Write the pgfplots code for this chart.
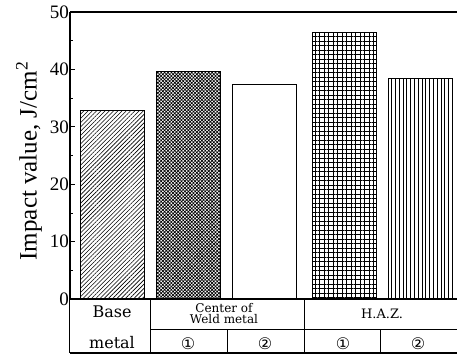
\documentclass[border=0pt]{standalone}
\usepackage{pgfplots}
\pgfplotsset{compat=1.18}
\usepackage{fontspec}
\setmainfont{Liberation Serif}
\newfontfamily\tabfont{DejaVu Serif}
\newfontfamily\circfont{DejaVu Sans}
\usetikzlibrary{patterns.meta}
\begin{document}
\begin{tikzpicture}
\begin{axis}[
  at={(0,0)}, anchor=south west,
  scale only axis, width=387pt, height=287pt,
  xmin=0, xmax=387, ymin=0, ymax=50,
  clip=false,
  axis x line=none,
  axis y line*=left,
  y axis line style={line width=1.2pt, black},
  xtick=\empty,
  ytick={0,10,20,30,40,50},
  minor ytick={5,15,25,35,45},
  tick align=inside,
  major tick length=5pt, minor tick length=3pt,
  tick style={black, line width=0.8pt},
  /pgf/number format/assume math mode=true,
  yticklabel style={font=\rmfamily\fontsize{19}{19}\selectfont, inner sep=1pt},
  ylabel={Impact value, J/cm\textsuperscript{2}},
  ylabel style={font=\rmfamily\fontsize{25}{25}\selectfont, at={(axis description cs:-0.086,0.481)}, anchor=base, rotate=0},
]
\addplot[ybar, bar shift=0pt, bar width=64, draw=black, line width=0.9pt,
  pattern={Lines[angle=45,distance=3pt,line width=0.6pt]}] coordinates {(42,32.8)};
\addplot[ybar, bar shift=0pt, bar width=64, draw=black, line width=0.9pt,
  pattern={Hatch[angle=45,distance=2.4pt,line width=0.7pt]}] coordinates {(118,39.7)};
\addplot[ybar, bar shift=0pt, bar width=64, draw=black, line width=0.9pt,
  fill=white] coordinates {(194,37.4)};
\addplot[ybar, bar shift=0pt, bar width=64, draw=black, line width=0.9pt,
  pattern={Hatch[angle=0,distance=4.5pt,line width=0.6pt]}] coordinates {(274,46.5)};
\addplot[ybar, bar shift=0pt, bar width=64, draw=black, line width=0.9pt,
  pattern={Lines[angle=90,distance=3.8pt,line width=0.6pt]}] coordinates {(350,38.4)};
\end{axis}
\begin{scope}[x=1pt,y=1pt]
  \draw[line width=1.2pt] (0,0) -- (387,0);
  \draw[line width=1.2pt] (0,287) -- (387,287);
  \draw[line width=1pt] (0,0) -- (0,-54);
  \draw[line width=1pt] (80.7,0) -- (80.7,-54);
  \draw[line width=1pt] (234,0) -- (234,-54);
  \draw[line width=1pt] (157,-30) -- (157,-54);
  \draw[line width=1pt] (310.7,-30) -- (310.7,-54);
  \draw[line width=1pt] (80.7,-30) -- (387,-30);
  \draw[line width=1.2pt] (0,-54) -- (387,-54);
  \node[font=\tabfont\fontsize{16}{16}\selectfont, anchor=base, inner sep=0pt] at (42,-18.3) {Base};
  \node[font=\tabfont\fontsize{16}{16}\selectfont, anchor=base, inner sep=0pt] at (42,-49.3) {metal};
  \node[font=\tabfont\fontsize{12}{12}\selectfont, anchor=base, inner sep=0pt] at (154,-13.8) {Center of};
  \node[font=\tabfont\fontsize{12}{12}\selectfont, anchor=base, inner sep=0pt] at (154,-24.8) {Weld metal};
  \node[font=\tabfont\fontsize{13}{13}\selectfont, anchor=base, inner sep=0pt] at (312,-19.5) {H.A.Z.};
  \node[font=\circfont\fontsize{16}{16}\selectfont, inner sep=0pt] at (118,-44.5) {①};
  \node[font=\circfont\fontsize{16}{16}\selectfont, inner sep=0pt] at (195,-44.5) {②};
  \node[font=\circfont\fontsize{16}{16}\selectfont, inner sep=0pt] at (273,-44.5) {①};
  \node[font=\circfont\fontsize{16}{16}\selectfont, inner sep=0pt] at (348,-44.5) {②};
  \pgfresetboundingbox
  \useasboundingbox (-70,-57) rectangle (387,299);
\end{scope}
\end{tikzpicture}
\end{document}
